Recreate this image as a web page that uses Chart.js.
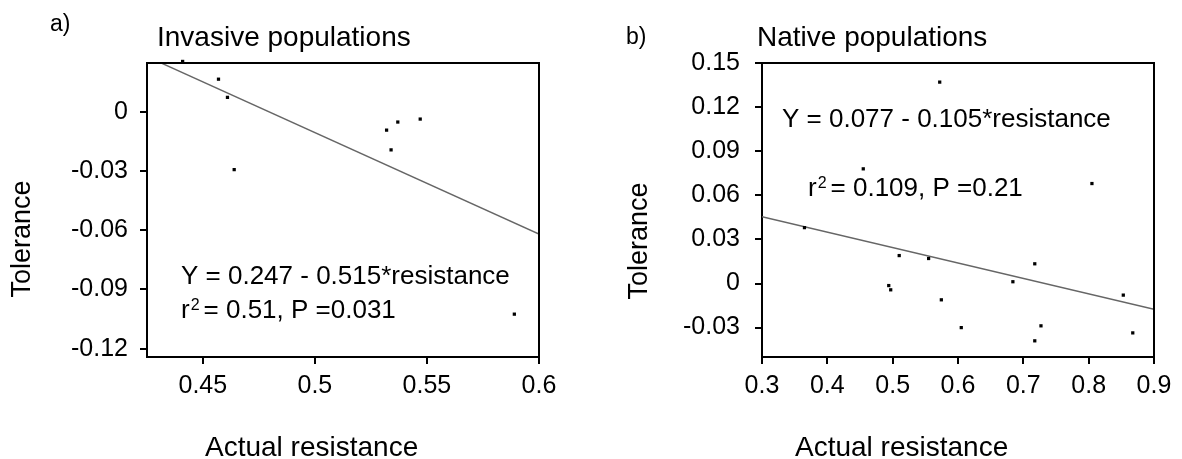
<!DOCTYPE html>
<html>
<head>
<meta charset="utf-8">
<script src="https://cdn.jsdelivr.net/npm/chart.js@4.4.1/dist/chart.umd.min.js"></script>
<style>
  html, body { margin: 0; padding: 0; background: #fff; }
  #wrap { position: relative; width: 1182px; height: 459px; overflow: hidden; }
  canvas { position: absolute; top: 0; }
</style>
</head>
<body>
<div id="wrap">
  <canvas id="invasive" width="591" height="459" style="left:0"></canvas>
  <canvas id="native" width="591" height="459" style="left:591px"></canvas>
</div>
<script>
// a) invasive populations
const invasiveResistance = [0.441, 0.457, 0.461, 0.464, 0.532, 0.534, 0.537, 0.547, 0.589];
const invasiveTolerance = [0.0255, 0.0165, 0.0073, -0.0293, -0.0093, -0.0193, -0.0052, -0.0037, -0.1025];
const invasiveFitX = [0.4308, 0.6];
const invasiveFitY = [0.025, -0.062];
const invasiveXTicks = [0.45, 0.5, 0.55, 0.6];
const invasiveXLabels = ['0.45', '0.5', '0.55', '0.6'];
const invasiveYTicks = [0, -0.03, -0.06, -0.09, -0.12];
const invasiveYLabels = ['0', '-0.03', '-0.06', '-0.09', '-0.12'];

// b) native populations
const nativeResistance = [0.572, 0.455, 0.805, 0.365, 0.51, 0.555, 0.7175, 0.684, 0.494, 0.497, 0.5745, 0.853, 0.605, 0.727, 0.7175, 0.8675];
const nativeTolerance = [0.137, 0.078, 0.068, 0.038, 0.019, 0.017, 0.0134, 0.0012, -0.0014, -0.0043, -0.0111, -0.0079, -0.030, -0.0288, -0.039, -0.0336];
const nativeFitX = [0.3, 0.9];
const nativeFitY = [0.0455, -0.0175];
const nativeXTicks = [0.3, 0.4, 0.5, 0.6, 0.7, 0.8, 0.9];
const nativeXLabels = ['0.3', '0.4', '0.5', '0.6', '0.7', '0.8', '0.9'];
const nativeYTicks = [0.15, 0.12, 0.09, 0.06, 0.03, 0, -0.03];
const nativeYLabels = ['0.15', '0.12', '0.09', '0.06', '0.03', '0', '-0.03'];

const FONT = '"Liberation Sans", Arial, Helvetica, sans-serif';

function pairs(xs, ys) {
  return xs.map((x, i) => ({ x: x, y: ys[i] }));
}

// Draw r² with a raised 2
function drawR2(ctx, x, y, rest) {
  ctx.font = `26px ${FONT}`;
  ctx.fillText('r', x, y);
  let cx = x + ctx.measureText('r').width + 1;
  ctx.font = `16px ${FONT}`;
  ctx.fillText('2', cx, y - 8);
  cx += ctx.measureText('2').width + 4;
  ctx.font = `26px ${FONT}`;
  ctx.fillText(rest, cx, y);
}

// Frame, panel letter, titles and regression text
const panelText = {
  id: 'panelText',
  afterDatasetsDraw(chart) {
    // top and right sides of the box, under the points
    const ctx = chart.ctx;
    const area = chart.chartArea;
    ctx.save();
    ctx.strokeStyle = '#000';
    ctx.lineWidth = 2;
    ctx.beginPath();
    ctx.moveTo(area.left, area.top);
    ctx.lineTo(area.right, area.top);
    ctx.lineTo(area.right, area.bottom);
    ctx.stroke();
    ctx.restore();
  },
  afterDraw(chart, args, opts) {
    const ctx = chart.ctx;
    ctx.save();

    ctx.fillStyle = '#000';
    ctx.textAlign = 'left';
    ctx.textBaseline = 'alphabetic';

    ctx.font = `23px ${FONT}`;
    ctx.fillText(opts.letter, opts.letterX, opts.letterY);

    ctx.font = `28px ${FONT}`;
    ctx.fillText(opts.title, opts.titleX, 46);

    ctx.font = `28px ${FONT}`;
    ctx.fillText('Actual resistance', opts.xTitleX, 456);

    ctx.font = `26px ${FONT}`;
    ctx.fillText(opts.equation, opts.eqX, opts.eqY);
    drawR2(ctx, opts.r2X, opts.r2Y, opts.r2Text);

    ctx.save();
    ctx.translate(opts.yTitleX, opts.yTitleY);
    ctx.rotate(-Math.PI / 2);
    ctx.textAlign = 'center';
    ctx.textBaseline = 'middle';
    ctx.font = `27px ${FONT}`;
    ctx.fillText('Tolerance', 0, 0);
    ctx.restore();

    ctx.restore();
  }
};

function axis(min, max, ticks, labels, extra) {
  return Object.assign({
    type: 'linear',
    min: min,
    max: max,
    afterBuildTicks(scale) {
      scale.ticks = ticks.map((v) => ({ value: v }));
    },
    ticks: {
      autoSkip: false,
      maxRotation: 0,
      color: '#000',
      font: { family: FONT, size: 25 },
      callback(value, index) {
        return labels[index];
      }
    },
    grid: {
      display: true,
      drawOnChartArea: false,
      drawTicks: true,
      tickLength: 7,
      color: '#000',
      lineWidth: 2
    },
    border: { display: true, color: '#000', width: 2 }
  }, extra);
}

function initPanel(ident, p) {
  const chartConfig = {
    type: 'scatter',
    data: {
      datasets: [
        {
          data: pairs(p.xs, p.ys),
          pointStyle: 'rect',
          pointRadius: 2.3,
          pointBackgroundColor: '#000',
          pointBorderWidth: 0,
          clip: false,
          order: 0
        },
        {
          type: 'line',
          data: pairs(p.fitX, p.fitY),
          showLine: true,
          borderColor: '#666666',
          borderWidth: 1.5,
          pointRadius: 0,
          fill: false,
          order: 1
        }
      ]
    },
    options: {
      responsive: false,
      animation: false,
      layout: { padding: p.padding },
      scales: {
        x: axis(p.xMin, p.xMax, p.xTicks, p.xLabels, {
          position: 'bottom',
          afterFit(scale) { scale.height = 60; }
        }),
        y: axis(p.yMin, p.yMax, p.yTicks, p.yLabels, {
          position: 'left',
          afterFit(scale) { scale.width = 100; }
        })
      },
      plugins: {
        legend: { display: false },
        tooltip: { enabled: false },
        panelText: p.text
      }
    },
    plugins: [panelText]
  };
  chartConfig.options.scales.x.ticks.padding = 7;
  chartConfig.options.scales.y.ticks.padding = p.yPad;

  return new Chart(document.getElementById(ident), chartConfig);
}

initPanel('invasive', {
  xs: invasiveResistance, ys: invasiveTolerance,
  fitX: invasiveFitX, fitY: invasiveFitY,
  xMin: 0.4251, xMax: 0.6, xTicks: invasiveXTicks, xLabels: invasiveXLabels,
  yMin: -0.1242, yMax: 0.0247, yTicks: invasiveYTicks, yLabels: invasiveYLabels,
  yPad: 12,
  padding: { left: 47, top: 63, right: 52, bottom: 42 },
  text: {
    letter: 'a)', letterX: 50, letterY: 31,
    title: 'Invasive populations', titleX: 157,
    xTitleX: 205,
    yTitleX: 23, yTitleY: 239,
    equation: 'Y = 0.247 - 0.515*resistance', eqX: 181, eqY: 284,
    r2X: 181, r2Y: 318, r2Text: '= 0.51, P =0.031'
  }
});

initPanel('native', {
  xs: nativeResistance, ys: nativeTolerance,
  fitX: nativeFitX, fitY: nativeFitY,
  xMin: 0.3, xMax: 0.9, xTicks: nativeXTicks, xLabels: nativeXLabels,
  yMin: -0.05, yMax: 0.15, yTicks: nativeYTicks, yLabels: nativeYLabels,
  yPad: 15,
  padding: { left: 71, top: 63, right: 28, bottom: 42 },
  text: {
    letter: 'b)', letterX: 35, letterY: 44,
    title: 'Native populations', titleX: 166,
    xTitleX: 204,
    yTitleX: 48.5, yTitleY: 241,
    equation: 'Y = 0.077 - 0.105*resistance', eqX: 191, eqY: 127,
    r2X: 217, r2Y: 196, r2Text: '= 0.109, P =0.21'
  }
});
</script>
</body>
</html>
